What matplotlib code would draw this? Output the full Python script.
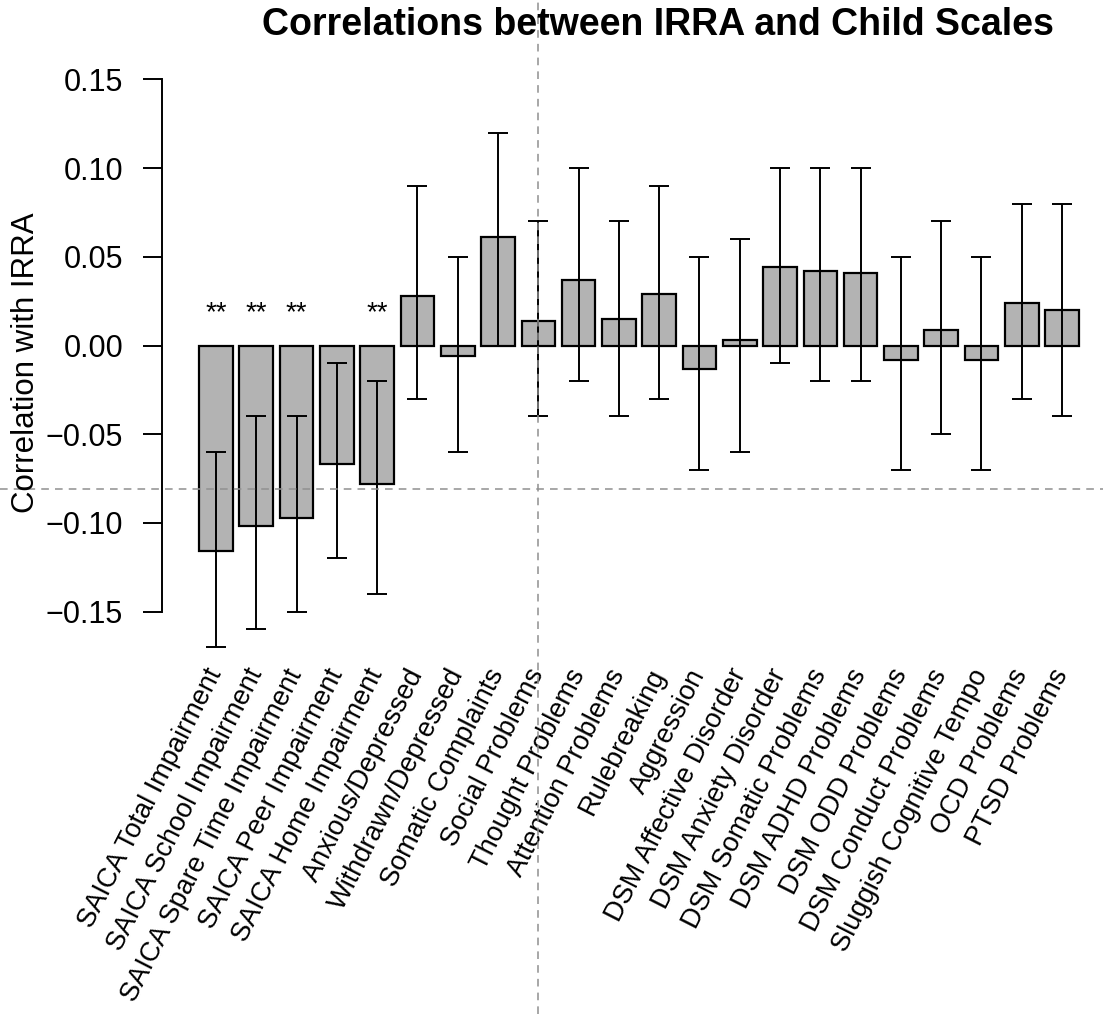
import numpy as np
import matplotlib
matplotlib.use("Agg")
import matplotlib.pyplot as plt
from matplotlib.lines import Line2D

plt.rcParams['font.family'] = ['Liberation Sans', 'DejaVu Sans']

# scale names, correlations and 95% CI bounds
scales = ["SAICA Total Impairment", "SAICA School Impairment", "SAICA Spare Time Impairment",
          "SAICA Peer Impairment", "SAICA Home Impairment", "Anxious/Depressed",
          "Withdrawn/Depressed", "Somatic Complaints", "Social Problems", "Thought Problems",
          "Attention Problems", "Rulebreaking", "Aggression", "DSM Affective Disorder",
          "DSM Anxiety Disorder", "DSM Somatic Problems", "DSM ADHD Problems",
          "DSM ODD Problems", "DSM Conduct Problems", "Sluggish Cognitive Tempo",
          "OCD Problems", "PTSD Problems"]
corr = [-0.116, -0.102, -0.097, -0.067, -0.078, 0.028, -0.006, 0.061, 0.014, 0.037,
        0.015, 0.029, -0.013, 0.003, 0.044, 0.042, 0.041, -0.008, 0.009, -0.008,
        0.024, 0.020]
ci_low = [-0.17, -0.16, -0.15, -0.12, -0.14, -0.03, -0.06, 0.00, -0.04, -0.02,
          -0.04, -0.03, -0.07, -0.06, -0.01, -0.02, -0.02, -0.07, -0.05, -0.07,
          -0.03, -0.04]
ci_high = [-0.06, -0.04, -0.04, -0.01, -0.02, 0.09, 0.05, 0.12, 0.07, 0.10,
           0.07, 0.09, 0.05, 0.06, 0.10, 0.10, 0.10, 0.05, 0.07, 0.05,
           0.08, 0.08]
signif = ["**", "**", "**", "", "**"] + [""] * 17

corr = np.array(corr)
lo = np.array(ci_low)
hi = np.array(ci_high)
x = 0.7 + 1.2 * np.arange(len(scales))  # R barplot positions

fig = plt.figure(figsize=(11.03, 10.14), dpi=100)
ax = fig.add_axes([162 / 1103, 0.34428, 1 - 162 / 1103, 0.59497])

ax.bar(x, corr, width=1.0, color="#b3b3b3", edgecolor="black", linewidth=1.6, zorder=2)
ax.errorbar(x, corr, yerr=[corr - lo, hi - corr], fmt="none", ecolor="black",
            elinewidth=1.4, capsize=7.5, capthick=1.4, zorder=3, clip_on=False)

for xi, s in zip(x, signif):
    if s:
        ax.text(xi, 0.014, s, ha="center", va="baseline", fontsize=20)

ax.set_xlim(-0.908, 27.12)
ax.set_ylim(-0.18, 0.16)

for side in ["top", "right", "bottom"]:
    ax.spines[side].set_visible(False)
ax.spines["left"].set_bounds(-0.15, 0.15)
ax.spines["left"].set_linewidth(1.4)

yt = [-0.15, -0.10, -0.05, 0.00, 0.05, 0.10, 0.15]
ax.set_yticks(yt)
ax.set_yticklabels(["%.2f" % v if v >= 0 else "\u2212%.2f" % -v for v in yt])
ax.tick_params(axis="y", length=14, width=1.4, pad=14, labelsize=22)

ax.set_xticks(x)
ax.set_xticklabels(scales, rotation=63, ha="right", va="center",
                   rotation_mode="anchor", fontsize=19.5)
ax.tick_params(axis="x", length=0, pad=4)

fig.text(26 / 1103, 0.6425, "Correlation with IRRA", rotation=90,
         ha="center", va="center", fontsize=22.5)
fig.text(658 / 1103, 1 - 35 / 1014, "Correlations between IRRA and Child Scales",
         ha="center", va="baseline", fontsize=27, fontweight="bold")

# dashed crosshair lines across the whole image
fig.add_artist(Line2D([537.7 / 1103, 537.7 / 1103], [0, 1], transform=fig.transFigure,
                      color="#909090", linestyle=(0, (5, 4)), linewidth=1.1))
fig.add_artist(Line2D([0, 1], [1 - 489.4 / 1014, 1 - 489.4 / 1014], transform=fig.transFigure,
                      color="#909090", linestyle=(0, (5, 4)), linewidth=1.1))

fig.savefig("out.png", dpi=100)
